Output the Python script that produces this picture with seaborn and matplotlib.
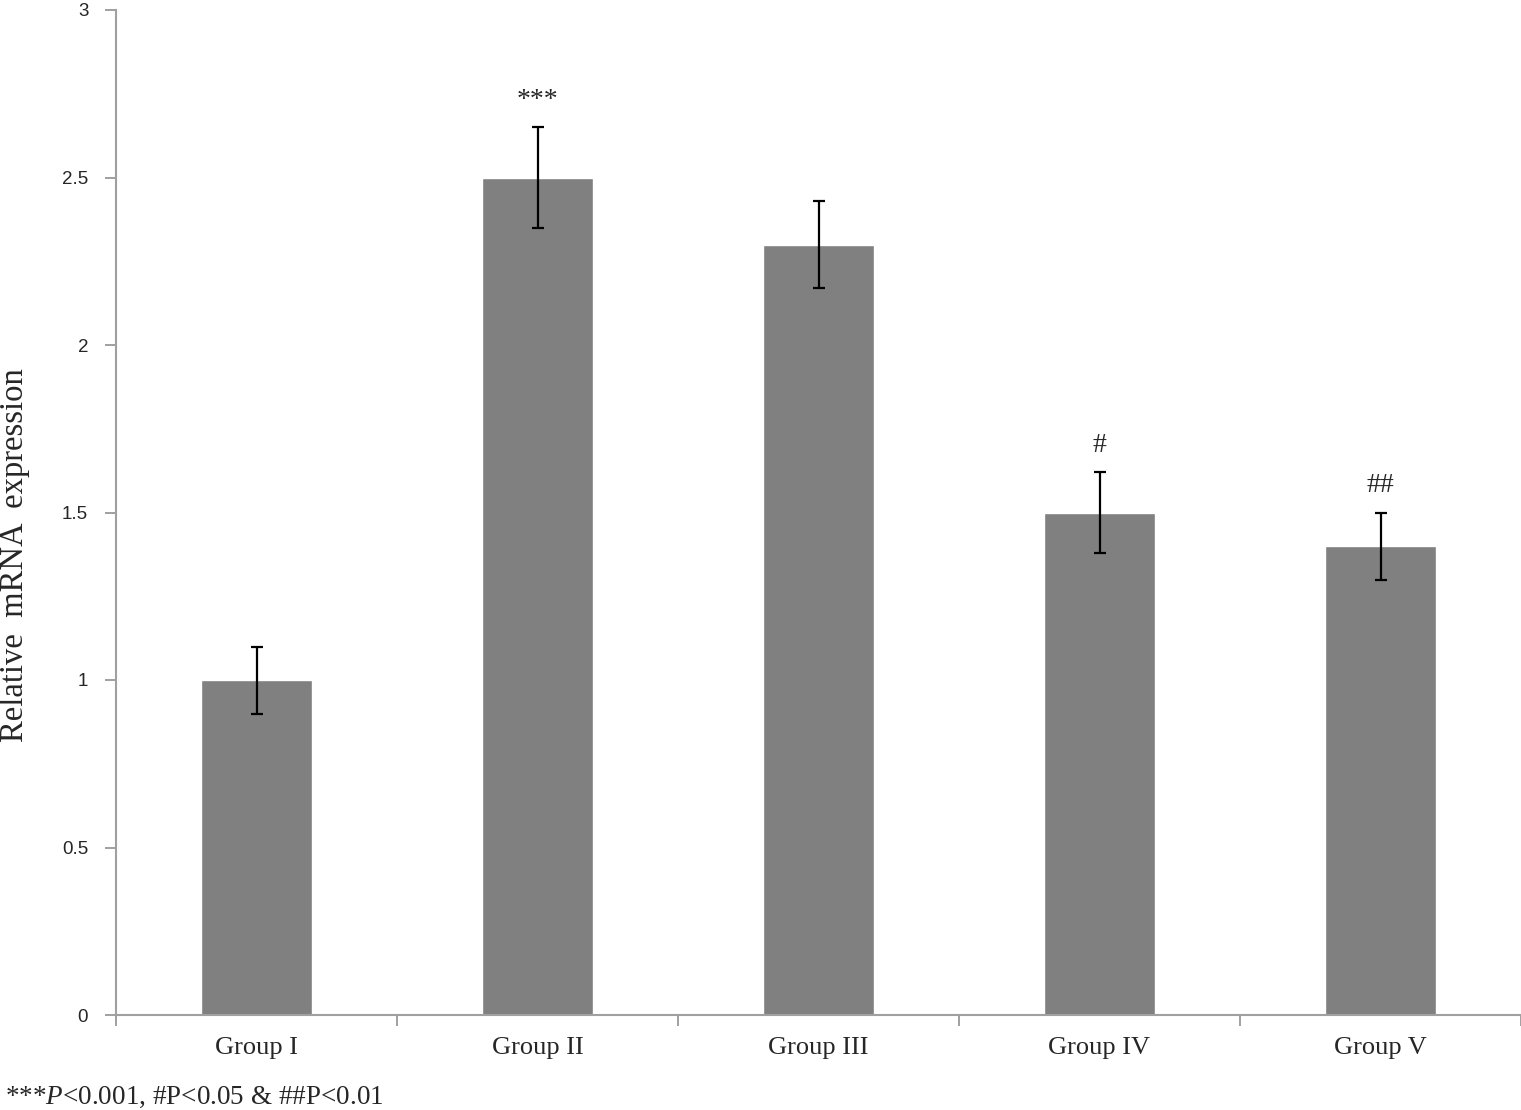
import numpy as np
import pandas as pd
import matplotlib
matplotlib.use("Agg")
import matplotlib.pyplot as plt
import seaborn as sns

# values
groups = ["Group I", "Group II", "Group III", "Group IV", "Group V"]
expression = [1.0, 2.5, 2.3, 1.5, 1.4]
errors = [0.10, 0.15, 0.13, 0.12, 0.10]
marks = ["", "***", "", "#", "##"]
yticks = [0, 0.5, 1, 1.5, 2, 2.5, 3]

df = pd.DataFrame({"group": groups, "expression": expression})

sns.set_style("white")
plt.rcParams["font.family"] = ["Liberation Serif", "DejaVu Serif"]
plt.rcParams["mathtext.fontset"] = "custom"
plt.rcParams["mathtext.it"] = "Liberation Serif:italic"
plt.rcParams["mathtext.rm"] = "Liberation Serif"

fig = plt.figure(figsize=(15.21, 11.10), dpi=100)
ax = fig.add_axes([116 / 1521, 1 - 1015 / 1110, 1 - 116 / 1521, 1005 / 1110])

sns.barplot(data=df, x="group", y="expression", ax=ax, color="#808080",
            saturation=1, width=0.395, errorbar=None)
ax.errorbar(range(len(groups)), expression, yerr=errors, fmt="none",
            ecolor="black", elinewidth=1.6, capsize=4.5, capthick=1.6)

# significance marks above error bars
for i, (m, v, e) in enumerate(zip(marks, expression, errors)):
    if m:
        ax.text(i, v + e + 0.06, m, ha="center", va="baseline", fontsize=20)

ax.set_ylim(0, 3)
ax.set_xlim(-0.5, len(groups) - 0.5)
ax.set_yticks(yticks)
ax.set_yticklabels([f"{t:g}" for t in yticks], family="Liberation Sans", fontsize=13.5)

# category boundaries get tick marks, labels sit in the middle
ax.set_xticks(np.arange(-0.5, len(groups)))
ax.set_xticklabels([])
ax.set_xticks(range(len(groups)), minor=True)
ax.set_xticklabels(groups, minor=True, fontsize=19)
ax.tick_params(axis="x", which="major", bottom=True, length=8, color="#a0a0a0",
               width=1.4, direction="out")
ax.tick_params(axis="x", which="minor", bottom=True, length=0, pad=16)
ax.tick_params(axis="y", left=True, length=8, color="#a0a0a0", width=1.4,
               direction="out", pad=12)

for side in ["top", "right"]:
    ax.spines[side].set_visible(False)
for side in ["left", "bottom"]:
    ax.spines[side].set_color("#a0a0a0")
    ax.spines[side].set_linewidth(1.5)

ax.set_xlabel("")
ax.set_ylabel("Relative  mRNA  expression", fontsize=23.5)
ax.yaxis.set_label_coords(-0.061, 0.458)

fig.text(5 / 1521, 1 - 1097 / 1110, r"***$\it{P}$<0.001, #P<0.05 & ##P<0.01",
         fontsize=19.5, va="center", ha="left")

fig.savefig("out.png", dpi=100)
